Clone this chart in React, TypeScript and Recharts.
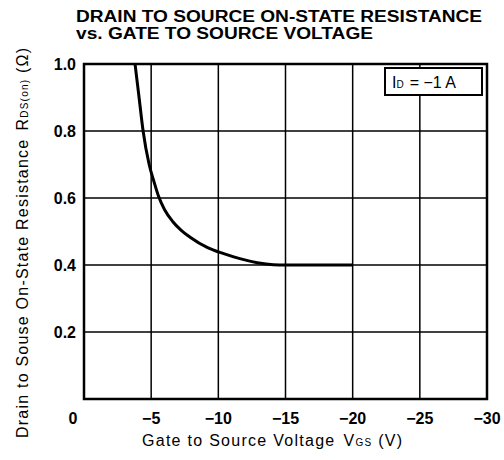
import React from 'react';
import { LineChart, Line, XAxis, YAxis, CartesianGrid, ReferenceArea } from 'recharts';

// gate-source voltage (V) and on-state resistance (ohm)
const vgs = [-3.8, -4.1, -4.4, -4.85, -5.2, -5.55, -6.0, -6.6, -7.2, -7.9, -9.2, -10.4, -11.6, -12.9, -14.1, -15, -20];
const rdsOn = [1.0, 0.9, 0.8, 0.7, 0.65, 0.605, 0.565, 0.53, 0.505, 0.483, 0.452, 0.434, 0.419, 0.407, 0.401, 0.4, 0.4];

const xTicks = [0, -5, -10, -15, -20, -25, -30];
const yTicks = [0, 0.2, 0.4, 0.6, 0.8, 1.0];

const data = vgs.map((v, i) => ({ vgs: v, rds: rdsOn[i] }));

const FONT = '"Liberation Sans", Arial, Helvetica, sans-serif';

const fmtMinus = (v: number) => (v === 0 ? '0' : '\u2212' + Math.abs(v));

function XTick(props: any) {
  const { x, y, payload } = props;
  const v = payload.value as number;
  // the corner "0" sits left of the origin, shared by both axes
  const dx = v === 0 ? -11 : 0;
  return (
    <text x={x + dx} y={y + 17} textAnchor="middle" fontSize={16} fontWeight="bold" fontFamily={FONT} fill="#000">
      {fmtMinus(v)}
    </text>
  );
}

export default function App() {
  return (
    <div style={{ position: 'absolute', left: 0, top: 0, width: 504, height: 460, background: '#fff' }}>
      <LineChart width={504} height={460} data={data} margin={{ top: 64, right: 17, bottom: 0, left: 0 }}>
        <CartesianGrid stroke="#000" strokeWidth={1.5} />
        <XAxis
          dataKey="vgs"
          type="number"
          domain={[-30, 0]}
          reversed
          ticks={xTicks}
          tick={<XTick />}
          tickLine={false}
          axisLine={false}
          height={61}
          interval={0}
        />
        <YAxis
          type="number"
          domain={[0, 1]}
          ticks={yTicks}
          tickFormatter={(v: number) => (v === 0 ? '' : v.toFixed(1))}
          tick={{ fill: '#000', fontSize: 16, fontWeight: 'bold', fontFamily: FONT }}
          tickLine={false}
          axisLine={false}
          width={84}
          interval={0}
        />
        <ReferenceArea x1={0} x2={-30} y1={0} y2={1} fill="none" stroke="#000" strokeWidth={2.5} fillOpacity={0} />
        <Line
          dataKey="rds"
          type="monotone"
          stroke="#000"
          strokeWidth={3}
          dot={false}
          isAnimationActive={false}
        />
      </LineChart>
      <svg
        width={504}
        height={460}
        style={{ position: 'absolute', left: 0, top: 0, pointerEvents: 'none' }}
        fontFamily={FONT}
      >
        <text x={76} y={22} fontSize={16} fontWeight="bold" textLength={406} lengthAdjust="spacingAndGlyphs">
          DRAIN TO SOURCE ON-STATE RESISTANCE
        </text>
        <text x={76} y={39} fontSize={16} fontWeight="bold" textLength={297} lengthAdjust="spacingAndGlyphs">
          vs. GATE TO SOURCE VOLTAGE
        </text>
        <rect x={385} y={68} width={97} height={27} fill="#fff" stroke="#000" strokeWidth={2} />
        <text x={392} y={88} fontSize={16}>
          I<tspan fontSize={10}>D</tspan>
          <tspan dx={6}>= {'\u2212'}1 A</tspan>
        </text>
        <text x={142} y={446} fontSize={16} textLength={260} lengthAdjust="spacing">
          Gate to Source Voltage
          <tspan dx={8}>V</tspan>
          <tspan fontSize={10}>GS</tspan>
          <tspan> (V)</tspan>
        </text>
        <text
          transform="translate(28,243) rotate(-90)"
          textAnchor="middle"
          fontSize={16}
          textLength={390}
          lengthAdjust="spacing"
        >
          Drain to Souse On-State Resistance
          <tspan dx={8}>R</tspan>
          <tspan fontSize={10}>DS(on)</tspan>
          <tspan> ({'\u03a9'})</tspan>
        </text>
      </svg>
    </div>
  );
}
